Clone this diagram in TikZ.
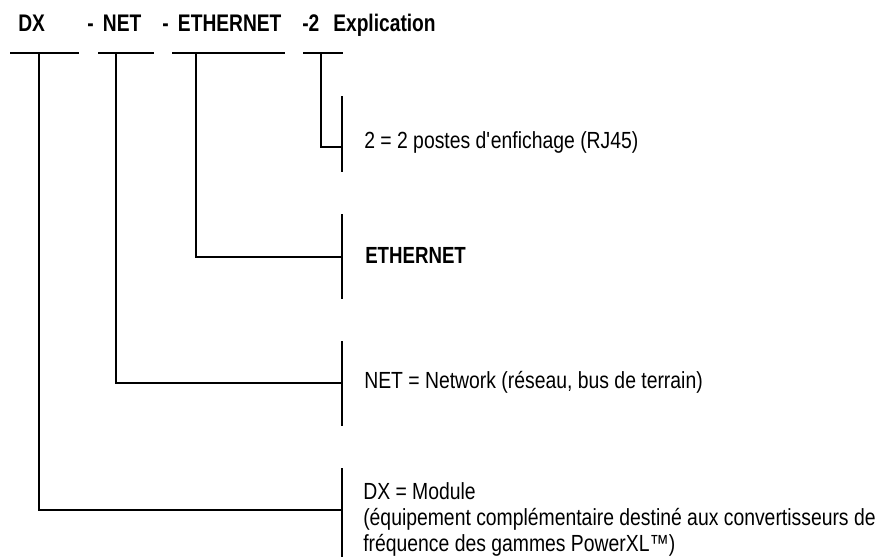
\documentclass[tikz,border=0pt]{standalone}
\usepackage{fontspec}
\setmainfont{Liberation Sans}[FakeStretch=0.83]
\newfontfamily\titrefont{Liberation Sans}[FakeStretch=0.8]

\tikzset{
  titre/.style={font=\titrefont\bfseries\fontsize{18}{21}\selectfont, inner sep=0pt, anchor=base west},
  texte/.style={font=\fontsize{17.5}{19.5}\selectfont, inner sep=0pt, anchor=base west, align=left},
  gras/.style={texte, font=\titrefont\bfseries\fontsize{17.5}{21}\selectfont},
  souligne/.style={line width=2pt},
  barre/.style={line width=0.8pt},
  lien/.style={line width=0.8pt}
}

\begin{document}
\begin{tikzpicture}[x=0.75pt,y=-0.75pt]
	\useasboundingbox (0,0) rectangle (885,557);
	
	\node[titre] (dx) at (18,31) {DX};
	\node[titre] (net) at (87,31) {-\hspace{3pt} NET};
	\node[titre] (eth) at (162,31) {-\hspace{3pt} ETHERNET};
	\node[titre] (deux) at (302,31) {-2};
	\node[titre] (expl) at (333,31) {Explication};
	
	\draw[souligne] (10,53) -- (79,53);
	\draw[souligne] (98,53) -- (154,53);
	\draw[souligne] (172,53) -- (285,53);
	\draw[souligne] (303,53) -- (343,53);
	
	\coordinate (dx-p) at (39,53);
	\coordinate (net-p) at (116,53);
	\coordinate (eth-p) at (196,53);
	\coordinate (deux-p) at (321,53);
	
	\coordinate (deux-h) at (342,96);
	\coordinate (deux-c) at (342,147);
	\coordinate (deux-b) at (342,172);
	\coordinate (eth-h) at (342,214);
	\coordinate (eth-c) at (342,257);
	\coordinate (eth-b) at (342,299);
	\coordinate (net-h) at (342,341);
	\coordinate (net-c) at (342,383);
	\coordinate (net-b) at (342,426);
	\coordinate (dx-h) at (342,468);
	\coordinate (dx-c) at (342,510);
	\coordinate (dx-b) at (342,557);
	
	\draw[barre] (deux-h) -- (deux-b);
	\draw[barre] (eth-h) -- (eth-b);
	\draw[barre] (net-h) -- (net-b);
	\draw[barre] (dx-h) -- (dx-b);
	
	\draw[lien] (deux-p) |- (deux-c);
	\draw[lien] (eth-p) |- (eth-c);
	\draw[lien] (net-p) |- (net-c);
	\draw[lien] (dx-p) |- (dx-c);
	
	\node[texte] (deux-t) at (364,148) {2 = 2 postes d\textquotesingle enfichage (RJ45)};
	\node[gras] (eth-t) at (365,263) {ETHERNET};
	\node[texte] (net-t) at (364,388) {NET = Network (réseau, bus de terrain)};
	\node[texte] (dx-t) at (363,551) {DX = Module\\(équipement complémentaire destiné aux convertisseurs de\\fréquence des gammes PowerXL™)};
\end{tikzpicture}
\end{document}
